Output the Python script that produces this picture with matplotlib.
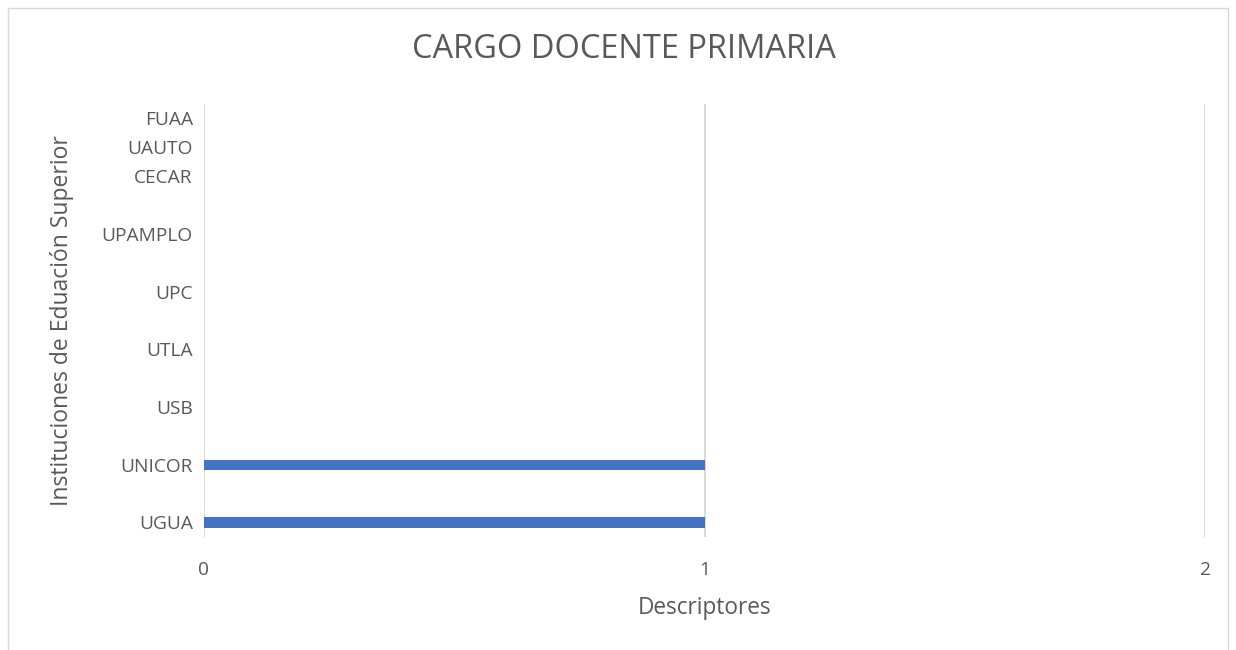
import matplotlib.pyplot as plt
from matplotlib.patches import Rectangle

plt.rcParams['font.family'] = ['Open Sans', 'DejaVu Sans']

# categories bottom to top; blank entries are categories whose labels Excel hid
categories = ['UGUA', '', 'UNICOR', '', 'USB', '', 'UTLA', '', 'UPC', '',
              'UPAMPLO', '', 'CECAR', 'UAUTO', 'FUAA']
values = [1, 0, 1, 0, 0, 0, 0, 0, 0, 0, 0, 0, 0, 0, 0]
x_ticks = [0, 1, 2]

text_color = '#595959'
grid_color = '#d9d9d9'
bar_color = '#4472C4'

fig = plt.figure(figsize=(12.36, 6.5), dpi=100)
ax = fig.add_axes([0.165, 0.174, 0.81, 0.666])

pos = list(range(len(categories)))
ax.barh(pos, values, height=0.36, color=bar_color, zorder=3)

ax.set_xlim(0, 2)
ax.set_ylim(-0.5, len(categories) - 0.5)
ax.set_xticks(x_ticks)
ax.set_xticklabels([str(t) for t in x_ticks])
ax.set_yticks(pos)
ax.set_yticklabels(categories)

ax.grid(axis='x', color=grid_color, linewidth=1.4, zorder=0)
for s in ax.spines.values():
    s.set_visible(False)
ax.tick_params(length=0, labelsize=13.8, colors=text_color)
ax.tick_params(axis='x', pad=17)
ax.tick_params(axis='y', pad=8)

fig.text(705 / 1236, 1 - 608 / 650, 'Descriptores', ha='center', va='center',
         fontsize=16.3, color=text_color)
fig.text(62 / 1236, 1 - 321 / 650, 'Instituciones de Eduación Superior',
         ha='center', va='center', rotation=90, fontsize=16.5, color=text_color)

fig.text(624 / 1236, 1 - 50 / 650, 'CARGO DOCENTE PRIMARIA', ha='center', va='center',
         fontsize=23.5, color=text_color)

fig.patches.append(Rectangle((8 / 1236, -0.01), 1220 / 1236, 642 / 650 + 0.01,
                             transform=fig.transFigure, fill=False,
                             edgecolor=grid_color, linewidth=1))

fig.savefig('out.png', dpi=100)
